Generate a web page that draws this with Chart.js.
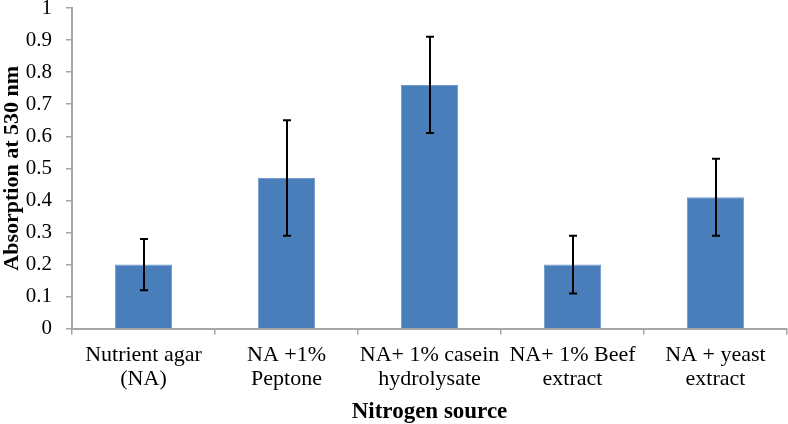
<!DOCTYPE html>
<html>
<head>
<meta charset="utf-8">
<script src="https://cdn.jsdelivr.net/npm/chart.js@4/dist/chart.umd.min.js"></script>
<style>
  html, body { margin: 0; padding: 0; background: #fff; }
  #wrap { width: 788px; height: 424px; }
</style>
</head>
<body>
<div id="wrap"><canvas id="myChart" width="788" height="424"></canvas></div>
<script>
var categories = [
    ['Nutrient agar', '(NA)'],
    ['NA +1%', 'Peptone'],
    ['NA+ 1% casein', 'hydrolysate'],
    ['NA+ 1% Beef', 'extract'],
    ['NA + yeast', 'extract']
];
var absorption = [0.20, 0.47, 0.76, 0.20, 0.41];
var errLow = [0.12, 0.29, 0.61, 0.11, 0.29];
var errHigh = [0.28, 0.65, 0.91, 0.29, 0.53];

var serif = "'Liberation Serif', 'Times New Roman', serif";

// draws the error whiskers from the value arrays
var errorBars = {
    id: 'errorBars',
    afterDatasetsDraw: function(chart) {
        var c = chart.ctx;
        var meta = chart.getDatasetMeta(0);
        var y = chart.scales.y;
        c.save();
        c.strokeStyle = '#000';
        c.lineWidth = 2;
        meta.data.forEach(function(bar, i) {
            var x = Math.round(bar.x);
            var yl = y.getPixelForValue(errLow[i]);
            var yh = y.getPixelForValue(errHigh[i]);
            c.beginPath();
            c.moveTo(x, yh); c.lineTo(x, yl);
            c.moveTo(x - 4, yh); c.lineTo(x + 4, yh);
            c.moveTo(x - 4, yl); c.lineTo(x + 4, yl);
            c.stroke();
        });
        c.restore();
    }
};

var ctx = document.getElementById('myChart').getContext('2d');
var myChart = new Chart(ctx, {
    type: 'bar',
    data: {
        labels: categories,
        datasets: [{
            label: 'Absorption',
            data: absorption,
            backgroundColor: '#4a7ebb',
            borderColor: '#7199cb',
            borderWidth: 1,
            barPercentage: 0.4,
            categoryPercentage: 1.0
        }]
    },
    plugins: [errorBars],
    options: {
        responsive: false,
        animation: false,
        layout: { padding: { top: 0, right: 1, left: 0, bottom: 0 } },
        plugins: {
            legend: { display: false },
            tooltip: { enabled: false }
        },
        scales: {
            x: {
                grid: { display: true, drawOnChartArea: false, drawTicks: true, tickLength: 6, offset: true, color: '#a6a6a6', lineWidth: 1.5 },
                border: { display: true, color: '#a6a6a6', width: 2 },
                ticks: { color: '#000', font: { family: serif, size: 22, lineHeight: 1.12 }, maxRotation: 0, autoSkip: false, padding: 8 },
                title: { display: true, text: 'Nitrogen source', color: '#000', font: { family: serif, size: 23, weight: 'bold', lineHeight: 1.0 }, padding: { top: 1, bottom: 0 } }
            },
            y: {
                min: 0,
                max: 1,
                afterFit: function(scale) {
                    scale.width = 72;
                    scale.paddingTop = 8;
                    scale.paddingBottom = 0;
                },
                ticks: { stepSize: 0.1, color: '#000', font: { family: serif, size: 21 }, padding: 14,
                    callback: function(v) { return Math.round(v * 10) / 10; } },
                grid: { display: true, drawOnChartArea: false, drawTicks: true, tickLength: 6, color: '#a6a6a6', lineWidth: 1.5 },
                border: { display: true, color: '#a6a6a6', width: 2 },
                title: { display: true, text: 'Absorption at 530 nm', color: '#000', font: { family: serif, size: 22, weight: 'bold', lineHeight: 1.1 }, padding: { top: 0, bottom: 0 } }
            }
        }
    }
});
</script>
</body>
</html>
